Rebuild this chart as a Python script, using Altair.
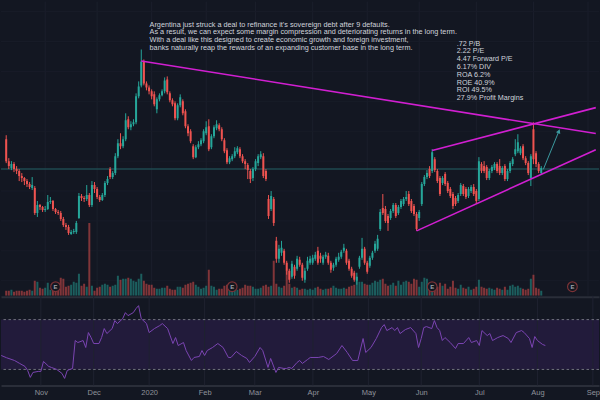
import altair as alt
import pandas as pd

BG = "#131722"
UP = "#26a69a"
DOWN = "#ef5350"
PINK = "#d11fd1"

# ---- daily candles; bar index 0 = first trading day of Nov 2019 ----
first_bar = -15
opens = [
    26.2, 24.0, 23.3, 23.7, 23.2, 23.0, 22.5, 22.3, 22.0, 21.7,
    21.3, 21.3, 18.8, 19.6, 19.4, 19.1, 19.2, 19.9, 20.0, 19.2,
    18.9, 18.8, 18.2, 17.6, 17.4, 16.7, 16.9, 16.9, 18.3, 20.5,
    20.3, 20.2, 20.6, 19.6, 21.6, 21.2, 20.4, 20.1, 20.6, 21.8,
    23.2, 22.4, 22.8, 24.5, 25.8, 25.5, 26.2, 28.2, 27.4, 27.7,
    27.9, 30.5, 31.6, 34.0, 31.8, 31.4, 31.0, 30.7, 29.2, 30.2,
    30.6, 31.0, 32.2, 30.8, 30.1, 29.8, 28.3, 29.6, 30.0, 29.0,
    27.5, 27.0, 25.5, 24.4, 25.4, 25.7, 26.0, 26.8, 27.5, 25.4,
    26.5, 27.3, 27.6, 27.2, 26.1, 25.1, 23.9, 24.2, 24.5, 24.9,
    25.2, 24.5, 24.0, 23.6, 23.0, 22.3, 23.2, 23.8, 24.4, 24.5,
    23.0, 20.2, 19.2, 20.2, 16.0, 14.2, 14.8, 15.0, 13.8, 13.0,
    12.4, 13.4, 13.2, 14.1, 13.6, 12.1, 13.2, 13.8, 13.8, 14.2,
    15.0, 14.5, 13.8, 14.4, 14.5, 13.8, 13.3, 13.6, 14.1, 14.4,
    15.0, 15.0, 14.0, 13.2, 12.8, 12.0, 13.4, 14.3, 15.2, 13.8,
    13.5, 14.3, 15.0, 15.2, 17.2, 19.3, 19.2, 18.5, 18.3, 19.0,
    19.6, 18.8, 19.4, 19.7, 20.2, 20.7, 20.0, 19.5, 18.7, 18.3,
    19.7, 21.7, 22.4, 23.2, 23.0, 24.2, 23.0, 22.3, 21.8, 22.7,
    21.8, 21.2, 20.7, 20.3, 20.0, 20.7, 21.5, 21.2, 20.5, 21.0,
    21.4, 21.0, 20.2, 23.7, 23.5, 23.4, 22.3, 23.0, 23.3, 23.7,
    23.5, 22.8, 23.5, 22.2, 23.0, 23.7, 24.7, 25.0, 24.8, 25.5,
    24.3, 23.8, 22.3, 27.2, 24.8, 23.7, 22.8,
]
closes = [
    24.0, 23.5, 23.7, 23.2, 23.0, 22.5, 22.3, 22.0, 21.7, 21.4,
    21.6, 18.8, 19.6, 19.4, 19.1, 19.2, 19.9, 20.0, 19.2, 18.9,
    18.8, 18.2, 17.6, 17.4, 16.8, 16.9, 17.0, 17.8, 20.5, 20.3,
    20.2, 20.6, 19.6, 21.6, 21.2, 20.4, 20.1, 20.6, 21.8, 22.2,
    22.4, 22.8, 24.5, 25.8, 25.5, 26.2, 28.1, 27.4, 27.7, 27.9,
    30.5, 31.5, 34.0, 31.8, 31.4, 31.0, 30.5, 29.7, 30.2, 30.6,
    31.0, 32.1, 30.9, 30.1, 29.7, 28.3, 29.6, 30.4, 28.8, 27.5,
    26.8, 26.0, 24.4, 25.4, 25.7, 26.1, 27.0, 27.4, 25.2, 26.5,
    27.4, 27.7, 27.2, 26.2, 25.0, 23.9, 24.3, 24.5, 25.0, 25.3,
    24.5, 24.0, 23.7, 23.1, 22.2, 23.2, 24.0, 24.5, 24.7, 22.5,
    22.2, 18.5, 20.5, 17.8, 14.2, 15.2, 15.3, 13.8, 13.0, 12.1,
    13.7, 12.5, 14.2, 13.6, 12.3, 13.0, 14.0, 14.2, 14.3, 14.6,
    13.8, 14.2, 14.4, 14.6, 13.8, 13.1, 13.6, 14.2, 14.4, 14.9,
    15.3, 13.8, 13.2, 12.5, 12.1, 12.4, 14.3, 15.2, 13.8, 12.9,
    14.3, 14.8, 15.7, 16.2, 18.9, 18.8, 18.0, 17.8, 19.0, 19.6,
    18.5, 19.4, 20.0, 20.2, 20.4, 19.7, 19.0, 18.7, 17.2, 18.9,
    21.7, 22.4, 22.8, 22.5, 24.9, 23.1, 22.0, 20.7, 22.3, 21.7,
    21.0, 20.5, 19.5, 19.7, 20.6, 21.6, 20.7, 20.4, 21.2, 21.4,
    20.7, 20.0, 24.0, 23.0, 23.0, 22.3, 23.0, 23.4, 23.7, 23.0,
    22.8, 23.3, 22.2, 23.0, 23.8, 24.2, 25.2, 25.9, 25.3, 24.3,
    23.8, 22.8, 24.5, 24.2, 23.7, 23.0, 23.3,
]
highs = [
    26.6, 24.3, 24.0, 23.9, 23.5, 23.2, 22.8, 22.4, 22.2, 21.9,
    22.4, 21.5, 20.0, 19.7, 19.5, 19.5, 20.6, 20.4, 20.1, 19.3,
    19.1, 19.0, 18.4, 17.8, 17.6, 17.1, 17.2, 18.0, 20.8, 20.7,
    20.5, 21.6, 20.8, 22.0, 21.9, 21.4, 20.6, 20.8, 22.0, 22.5,
    23.4, 23.0, 24.8, 26.2, 26.8, 26.5, 28.8, 28.5, 28.0, 28.2,
    30.8, 32.0, 35.2, 34.2, 32.0, 31.6, 31.2, 31.0, 30.4, 30.8,
    31.2, 32.4, 32.5, 31.0, 30.3, 30.0, 29.8, 30.7, 30.2, 29.2,
    27.7, 27.2, 25.7, 25.6, 26.0, 26.3, 27.2, 28.0, 28.2, 26.7,
    27.6, 28.1, 27.8, 27.4, 26.3, 25.3, 24.5, 24.7, 25.4, 25.5,
    25.4, 24.7, 24.2, 23.8, 23.2, 23.4, 24.2, 24.7, 25.0, 24.8,
    23.2, 20.6, 21.0, 20.4, 16.4, 15.6, 16.0, 15.2, 14.0, 13.2,
    14.0, 13.6, 14.5, 14.4, 13.8, 13.3, 14.4, 14.5, 14.6, 14.9,
    15.4, 14.8, 14.6, 14.9, 14.8, 14.0, 13.8, 14.4, 14.8, 15.1,
    15.7, 15.2, 14.2, 13.4, 13.0, 12.8, 14.5, 16.3, 15.4, 14.0,
    14.5, 15.0, 16.0, 16.6, 19.2, 20.7, 19.5, 18.7, 19.2, 19.8,
    19.8, 19.6, 20.2, 20.4, 21.0, 21.0, 20.2, 19.7, 18.9, 19.1,
    21.9, 22.6, 23.1, 23.5, 25.2, 24.4, 23.2, 22.5, 22.5, 22.9,
    22.0, 21.4, 20.9, 20.5, 20.8, 21.8, 21.7, 21.4, 21.4, 21.6,
    21.7, 21.2, 24.4, 23.9, 24.0, 23.6, 23.2, 23.6, 23.9, 23.9,
    24.2, 23.5, 23.7, 23.2, 24.0, 24.4, 26.2, 26.7, 25.5, 25.7,
    24.5, 24.0, 24.7, 27.9, 25.0, 23.9, 23.5,
]
lows = [
    23.8, 23.2, 23.1, 22.9, 22.7, 22.0, 21.9, 21.6, 21.4, 21.2,
    21.1, 18.6, 18.4, 19.1, 18.9, 18.9, 19.1, 19.7, 19.0, 18.7,
    18.6, 18.0, 17.4, 17.1, 16.6, 16.6, 16.7, 16.7, 18.2, 20.0,
    19.9, 20.0, 19.4, 19.4, 20.8, 20.2, 19.9, 20.0, 20.4, 21.6,
    22.2, 22.2, 22.6, 24.3, 25.2, 25.3, 26.0, 27.2, 27.1, 27.5,
    27.7, 30.3, 31.4, 31.6, 31.1, 30.7, 30.2, 29.5, 28.8, 30.0,
    30.5, 30.8, 30.7, 29.9, 29.5, 28.1, 28.1, 29.4, 28.6, 27.3,
    26.5, 25.8, 24.2, 24.3, 25.2, 25.5, 25.8, 26.6, 25.0, 25.2,
    26.3, 27.1, 27.0, 26.0, 24.8, 23.7, 23.7, 24.0, 24.3, 24.7,
    24.3, 23.8, 23.2, 22.2, 21.8, 22.0, 23.0, 23.5, 24.2, 22.3,
    22.0, 18.2, 19.0, 17.5, 13.8, 13.8, 14.5, 13.6, 12.6, 11.8,
    12.2, 12.2, 13.0, 13.4, 12.0, 11.8, 13.0, 13.6, 13.6, 14.0,
    13.6, 13.8, 13.6, 14.2, 13.6, 12.8, 13.0, 13.4, 13.9, 14.2,
    14.8, 13.6, 13.0, 12.3, 11.9, 11.6, 13.2, 14.1, 13.6, 12.7,
    13.3, 14.1, 14.8, 15.0, 17.0, 18.6, 17.8, 17.0, 18.1, 18.8,
    18.3, 18.6, 19.2, 19.5, 20.0, 19.5, 18.8, 18.5, 17.0, 18.0,
    19.5, 21.5, 22.2, 22.3, 22.8, 22.9, 21.8, 20.5, 21.6, 21.5,
    20.8, 20.3, 19.2, 19.5, 19.8, 20.5, 20.5, 20.2, 20.3, 20.8,
    20.5, 19.7, 20.0, 22.8, 22.8, 22.1, 22.1, 22.8, 23.1, 22.8,
    22.6, 22.6, 22.0, 22.0, 22.8, 23.5, 24.5, 24.8, 24.6, 24.1,
    23.6, 22.6, 21.5, 23.7, 23.4, 22.8, 22.7,
]
volumes = [
    5, 5, 6, 4, 5, 5, 5, 4, 5, 6,
    5, 15, 14, 8, 7, 8, 13, 6, 8, 10,
    6, 18, 17, 9, 10, 11, 14, 13, 22, 10,
    12, 9, 73, 10, 5, 8, 9, 11, 12, 11,
    9, 10, 11, 20, 16, 17, 17, 18, 17, 15,
    14, 17, 22, 15, 12, 11, 11,
    8, 7, 7, 8, 8, 10, 7, 6, 6, 9,
    9, 8, 11, 12, 13, 14, 11, 9, 7, 8,
    10, 26, 10, 9, 6, 7, 7, 10, 11, 8,
    9, 7, 6, 7, 8, 11, 10, 10, 9, 7,
    7, 8, 10, 11, 9, 10, 35, 12, 9, 8,
    10, 25, 12, 8, 9, 8,
    6, 7, 7, 6, 7, 6, 8, 9, 7, 6,
    7, 7, 8, 10, 8, 7, 7, 8, 7, 9,
    10, 11, 15, 14, 14, 12, 11, 11, 13, 15,
    14, 16, 17, 12, 10, 11, 13, 10, 15, 11,
    14, 15, 14, 12, 17, 16, 9, 14, 18, 17,
    9, 10, 8, 9, 13, 10, 12, 7, 9, 15,
    8, 7, 11, 8, 7, 9, 6, 7, 9, 16,
    9, 8, 7, 8, 7, 6, 8, 7, 6, 9,
    6, 10, 11, 9, 10, 8, 7, 6, 7, 17,
    21, 8, 7, 5,
]

# ---- RSI (14) ----
rsi_idx = [-15, -13, -10, -8, -6, -5, -4, -3, -1, 0, 1, 3, 4, 6, 8, 9, 10, 12, 13, 14,
           16, 17, 18, 19, 20, 22, 23, 24, 25, 27, 28, 29, 31, 32, 33, 35, 36, 37, 38, 40,
           41, 43, 45, 46, 48, 50, 51, 52, 54, 55, 57, 58, 60, 61, 62, 63, 65, 67, 69, 71,
           72, 74, 76, 78, 79, 81, 83, 84, 86, 87, 89, 90, 92, 93, 94, 95, 97, 98, 99, 101,
           102, 105, 107, 109, 112, 114, 116, 118, 120, 122, 123, 125, 127, 129, 130, 131, 133, 134, 135, 136,
           138, 140, 142, 143, 144, 145, 146, 148, 149, 150, 151, 152, 153, 155, 157, 158, 160, 162, 163, 165,
           166, 167, 169, 170, 171, 173, 175, 177, 178, 180, 182, 183, 185, 186, 187, 188, 190, 191]
rsi_val = [41.2, 39.4, 37.2, 34.8, 32.4, 29.2, 23.6, 27.6, 28.4, 28.4, 36.4, 32.4, 31.6, 30.0, 26.8, 22.8, 29.2, 30.8, 53.2, 51.6,
           53.2, 47.6, 59.6, 55.6, 50.8, 50.8, 55.6, 62.8, 58.8, 62.8, 69.2, 66.8, 70.8, 75.6, 73.2, 75.6, 78.8, 81.2, 70.8, 66.8,
           59.6, 62.8, 65.2, 66.8, 62.8, 50.8, 55.6, 49.2, 51.6, 45.2, 37.2, 39.6, 40.4, 45.2, 41.2, 45.2, 47.6, 50.8, 47.6, 39.6,
           39.6, 44.4, 41.2, 38.8, 35.6, 40.4, 47.6, 45.2, 31.6, 38.8, 27.6, 31.6, 30.8, 30.8, 31.6, 30.8, 35.6, 37.2, 34.8, 38.0,
           39.6, 39.6, 40.4, 38.0, 42.8, 49.2, 43.6, 37.2, 37.2, 54.8, 43.6, 47.6, 54.8, 63.6, 66.0, 61.2, 63.6, 61.2, 63.6, 58.8,
           62.0, 63.6, 58.8, 47.6, 54.8, 63.6, 64.4, 62.8, 69.2, 63.6, 61.2, 53.2, 55.6, 51.6, 46.8, 50.8, 50.8, 55.6, 51.6, 53.2,
           49.2, 61.2, 57.2, 58.8, 53.2, 55.6, 57.2, 54.8, 51.6, 59.6, 61.2, 59.6, 54.8, 47.6, 56.4, 53.2, 50.0, 49.2]

# ---- axis / annotations ----
month_idx = [0, 20, 41, 62, 81, 103, 124, 144, 166, 188, 209]
month_lbl = ["Nov", "Dec", "2020", "Feb", "Mar", "Apr", "May", "Jun", "Jul", "Aug", "Sep"]
grid_prices = [39, 36, 33, 30, 27, 24, 21, 18, 15, 12]
support_price = [23.2]
earnings_idx = [4, 72, 149, 203]
trend_name = ["resistance", "resistance", "upper", "upper", "lower", "lower"]
trend_idx = [37, 212, 149, 212, 143, 212]
trend_price = [34.05, 26.77, 25.07, 29.37, 17.0, 25.15]
arrow_idx = [191.8, 197.8]
arrow_price = [23.17, 27.0]
note_left = ("Argentina just struck a deal to refinance it's sovereign debt after 9 defaults.\n"
             "As a result, we can expect some margin compression and deteriorating returns in the long term.\n"
             "With a deal like this designed to create economic growth and foreign investment,\n"
             "banks naturally reap the rewards of an expanding customer base in the long term.")
note_right = ".72 P/B\n2.22 P/E\n4.47 Forward P/E\n6.17% DIV\nROA 6.2%\nROE 40.9%\nROI 49.5%\n27.9% Profit Margins"
note_idx = [40.2, 158.5]
note_price = [38.1, 36.2]
note_size = [7.3, 7.2]

# ---- tables ----
n = len(closes)
bars = pd.DataFrame({
    "i": list(range(first_bar, first_bar + n)),
    "open": opens, "high": highs, "low": lows, "close": closes, "volume": volumes,
})
bars["dir"] = ["up" if c >= o else "down" for o, c in zip(opens, closes)]
rsi = pd.DataFrame({"i": rsi_idx, "rsi": rsi_val})
months = pd.DataFrame({"i": month_idx})
trend = pd.DataFrame({"line": trend_name, "i": trend_idx, "p": trend_price})
arrow = pd.DataFrame({"i": arrow_idx, "p": arrow_price})
head = arrow.iloc[[1]]
earn = pd.DataFrame({"i": earnings_idx, "v": [9] * len(earnings_idx), "t": ["E"] * len(earnings_idx)})
notes = pd.DataFrame({"i": note_idx, "p": note_price, "t": [note_left, note_right], "fs": note_size})

xscale = alt.Scale(domain=[-15.09, 211.32], nice=False, zero=False)
pscale = alt.Scale(domain=[10.5, 40.0], nice=False, zero=False)
vscale = alt.Scale(domain=[0, 295], nice=False, zero=True)
rscale = alt.Scale(domain=[17.2, 89.2], nice=False, zero=False)
col = alt.Color("dir:N", scale=alt.Scale(domain=["up", "down"], range=[UP, DOWN]), legend=None)

top_axis = alt.Axis(labels=False, ticks=False, grid=False, domain=True, domainColor="#2a2e39",
                    domainWidth=2, offset=1, title=None)
XT = alt.X("i:Q", scale=xscale, axis=top_axis)
P = lambda f: alt.Y(f"{f}:Q", scale=pscale, axis=None)

vgrid = alt.Chart(months).mark_rule(color="#1b1f2c", strokeWidth=1).encode(x=XT)
hgrid = alt.Chart(pd.DataFrame({"p": grid_prices})).mark_rule(color="#181c28", strokeWidth=1).encode(y=P("p"))
support = alt.Chart(pd.DataFrame({"p": support_price})).mark_rule(color="#1f4a50", strokeWidth=1.5).encode(y=P("p"))
vol = alt.Chart(bars).mark_bar(size=2, opacity=0.5, clip=True).encode(
    x=XT, y=alt.Y("volume:Q", scale=vscale, axis=None), color=col)
earn_c = alt.Chart(earn).mark_point(shape="circle", size=95, fill="#141720", stroke="#7a3236",
                                    strokeWidth=1.2, opacity=1, fillOpacity=1, clip=True).encode(
    x=XT, y=alt.Y("v:Q", scale=vscale, axis=None))
earn_t = alt.Chart(earn).mark_text(fontSize=6, fontWeight="bold", color="#a0a3ab", font="Liberation Sans",
                                   clip=True).encode(
    x=XT, y=alt.Y("v:Q", scale=vscale, axis=None), text="t:N")
wick = alt.Chart(bars).mark_rule(strokeWidth=1, clip=True).encode(x=XT, y=P("low"), y2="high:Q", color=col)
body = alt.Chart(bars).mark_bar(size=2, clip=True).encode(x=XT, y=P("open"), y2="close:Q", color=col)
lines = alt.Chart(trend).mark_line(color=PINK, strokeWidth=1.6, clip=True).encode(
    x=XT, y=P("p"), detail="line:N")
arr = alt.Chart(arrow).mark_line(color="#3b9aa0", strokeWidth=1, clip=True).encode(x=XT, y=P("p"))
arr_head = alt.Chart(head).mark_point(shape="triangle-up", angle=23, size=22, filled=True,
                                      color="#3b9aa0", opacity=1).encode(x=XT, y=P("p"))
txt = alt.Chart(notes).mark_text(align="left", baseline="top", lineBreak="\n", lineHeight=7.85,
                                 font="Liberation Sans", color="#d1d4dc").encode(
    x=XT, y=P("p"), text="t:N", size=alt.Size("fs:Q", scale=None, legend=None))

top = alt.layer(vgrid, hgrid, support, vol, earn_c, earn_t, wick, body, lines, arr, arr_head, txt).resolve_scale(
    y="independent").properties(width=600, height=295)

label_expr = ("[" + ",".join(f"'{m}'" for m in month_lbl) + "][indexof([" +
              ",".join(str(v) for v in month_idx) + "], datum.value)]")
bot_axis = alt.Axis(values=month_idx, labelExpr=label_expr, ticks=False, grid=False, domain=True,
                    domainColor="#2a2e39", domainWidth=2, labelColor="#8f929b", labelFontSize=7.5,
                    labelFont="Liberation Sans", labelPadding=3, labelFlush=False, labelOverlap=False,
                    minExtent=15, maxExtent=15, title=None)
XB = alt.X("i:Q", scale=xscale, axis=bot_axis)
R = lambda f: alt.Y(f"{f}:Q", scale=rscale, axis=None)

band = alt.Chart(pd.DataFrame({"hi": [70], "lo": [30]})).mark_rect(color="#221b3b").encode(y=R("hi"), y2="lo:Q")
bgrid = alt.Chart(months).mark_rule(color="#1f2230", strokeWidth=1).encode(x=XB)
levels = alt.Chart(pd.DataFrame({"r": [70, 30]})).mark_rule(color="#6f727c", strokeDash=[2.5, 2.5],
                                                             strokeWidth=1).encode(y=R("r"))
rsi_line = alt.Chart(rsi).mark_line(color="#7b45b3", strokeWidth=1, clip=True).encode(x=XB, y=R("rsi"))

bottom = alt.layer(band, bgrid, levels, rsi_line).properties(width=600, height=90)

chart = alt.vconcat(top, bottom, spacing=0, bounds="flush").properties(
    background=BG, padding=0).configure_view(strokeWidth=0)

chart.save("out.html", embed_options={"renderer": "svg", "actions": False})
